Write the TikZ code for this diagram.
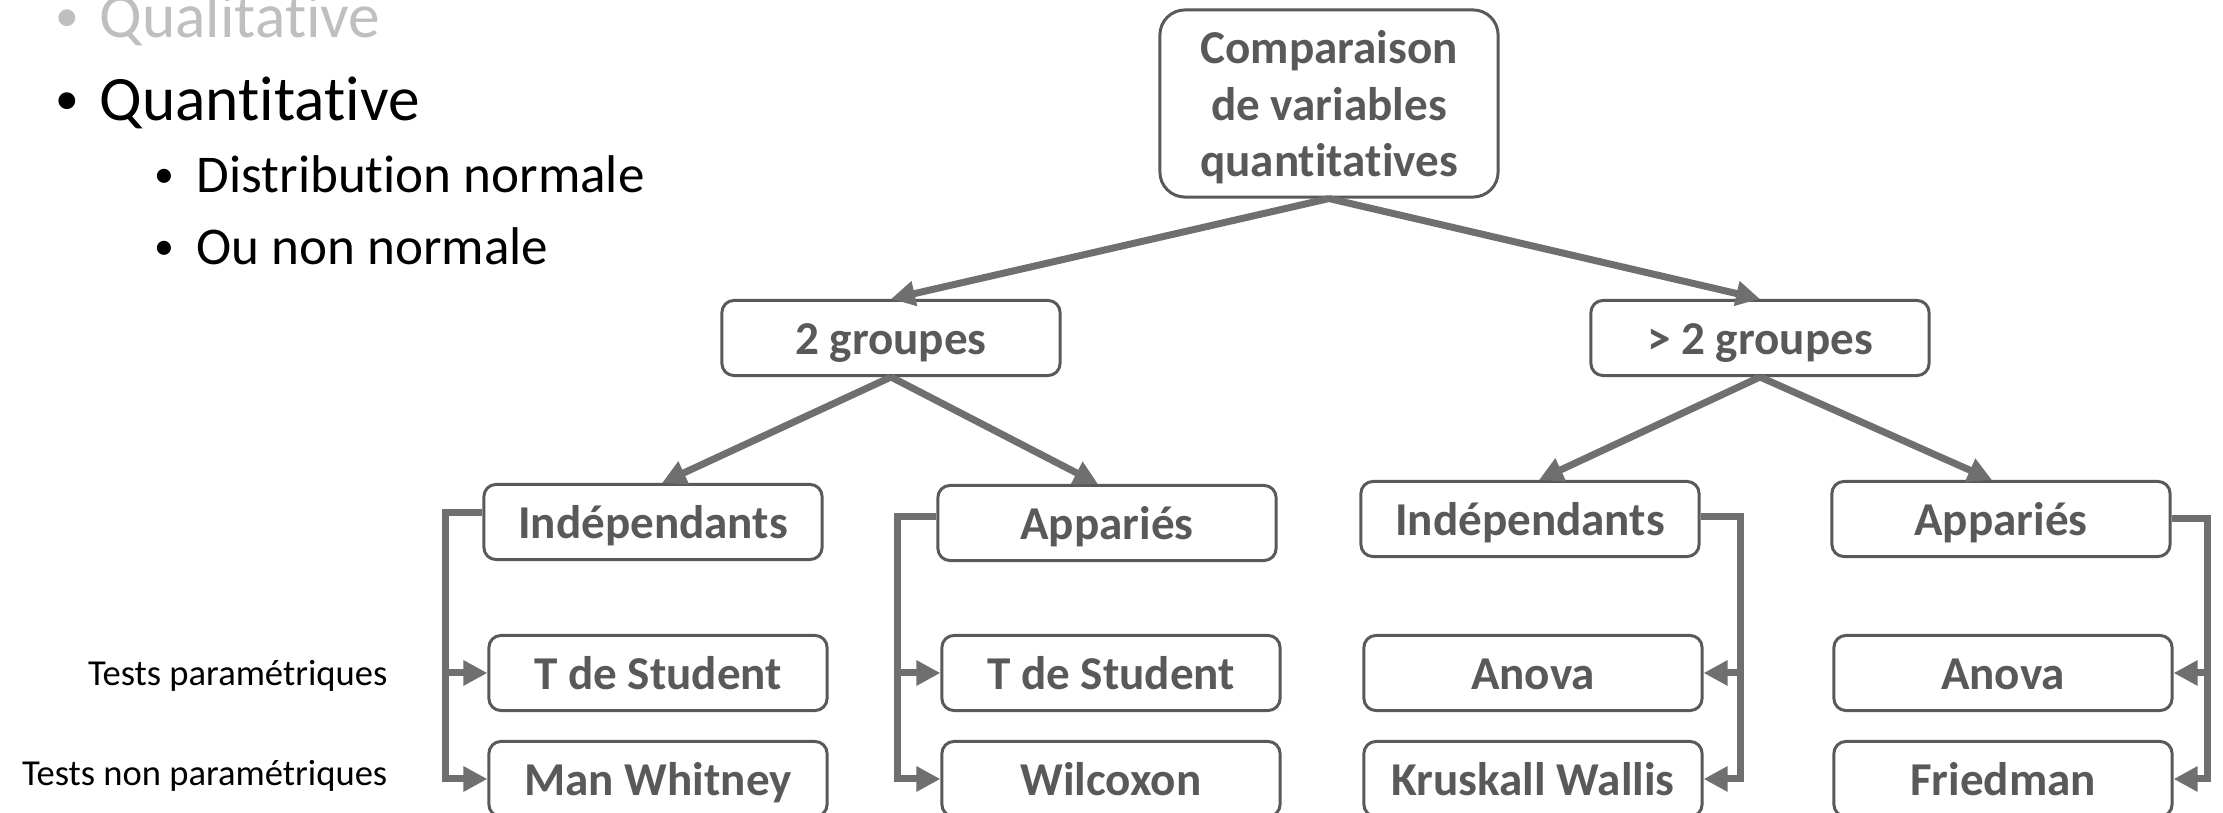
\documentclass[tikz,border=0pt]{standalone}
\usepackage{fontspec}
\setmainfont{Carlito}[RawFeature={-liga;-clig}]
\usepackage{tikz}
\usetikzlibrary{arrows.meta}
\usetikzlibrary{calc}
\definecolor{boxgray}{HTML}{595959}
\definecolor{linkgray}{HTML}{6F6F6F}
\definecolor{qualgray}{HTML}{BFBFBF}
\newcommand{\dotitem}{\raisebox{0.1em}{\scalebox{0.75}{•}}}

\begin{document}
\begin{tikzpicture}[x=0.01cm, y=-0.01cm,
	box/.style={draw=boxgray, line width=0.85pt, rounded corners=0.12cm, minimum width=3.38cm, minimum height=0.75cm, inner sep=0pt, text height=0.33cm, text depth=0pt, text=boxgray, font=\fontsize{13.4}{16.2}\selectfont\bfseries},
	link/.style={color=linkgray, line width=0.07cm, -{Triangle[length=0.24cm, width=0.24cm]}},
	elbow/.style={link, line join=miter},
	bigitem/.style={anchor=base west, inner sep=0pt, font=\fontsize{18}{21}\selectfont},
	subitem/.style={anchor=base west, inner sep=0pt, font=\fontsize{15.1}{18}\selectfont},
	testlabel/.style={anchor=east, inner sep=0pt, font=\fontsize{10.4}{12.5}\selectfont}
]
\useasboundingbox (0,0) rectangle (2223,813);

% bullet list on the left
\node[bigitem, text=qualgray] (qual) at (55,38) {\makebox[0.44cm][l]{\dotitem}Qualitative};
\node[bigitem] (quant) at (55,121) {\makebox[0.44cm][l]{\dotitem}Quantitative};
\node[subitem] (dist) at (154,193) {\makebox[0.42cm][l]{\dotitem}Distribution normale};
\node[subitem] (nonnorm) at (154,265) {\makebox[0.42cm][l]{\dotitem}Ou non normale};

\node[testlabel] (param) at (388,676) {Tests paramétriques};
\node[testlabel] (nonparam) at (388,776) {Tests non paramétriques};

% tree
\node[box, minimum height=1.87cm, rounded corners=0.25cm, text height={}, align=center] (root) at (1329,103.5) {Comparaison\\de variables\\quantitatives};
\node[box] (two) at (891,338) {2 groupes};
\node[box] (more) at (1760,338) {> 2 groupes};

\node[box] (ind1) at (653,522) {Indépendants};
\node[box] (app1) at (1107,523) {Appariés};
\node[box] (ind2) at (1530,519) {Indépendants};
\node[box] (app2) at (2001,519) {Appariés};

\node[box] (stud1) at (658,673) {T de Student};
\node[box] (stud2) at (1111,673) {T de Student};
\node[box] (anova1) at (1533,673) {Anova};
\node[box] (anova2) at (2003,673) {Anova};

\node[box] (whit) at (658,779) {Man Whitney};
\node[box] (wilc) at (1111,779) {Wilcoxon};
\node[box] (krus) at (1533,779) {Kruskall Wallis};
\node[box] (fried) at (2003,779) {Friedman};

\path[link]
(root.south) edge (two.north)
(root.south) edge (more.north)
(two.south) edge ([xshift=0.09cm]ind1.north)
(two.south) edge ([xshift=-0.09cm]app1.north)
(more.south) edge ([xshift=0.09cm]ind2.north)
(more.south) edge ([xshift=-0.09cm]app2.north)
;

% elbow connectors to the tests
\coordinate (bus1) at (445,513);
\coordinate (bus2) at (897,517);
\coordinate (bus3) at (1740,517);
\coordinate (bus4) at (2207,519);

\draw[elbow] (ind1.west |- bus1) -- (bus1) |- (whit.west);
\draw[elbow] (bus1 |- stud1) -- (stud1.west);
\draw[elbow] (app1.west |- bus2) -- (bus2) |- (wilc.west);
\draw[elbow] (bus2 |- stud2) -- (stud2.west);
\draw[elbow] (ind2.east |- bus3) -- (bus3) |- (krus.east);
\draw[elbow] (bus3 |- anova1) -- (anova1.east);
\draw[elbow] (app2.east |- bus4) -- (bus4) |- (fried.east);
\draw[elbow] (bus4 |- anova2) -- (anova2.east);
\end{tikzpicture}
\end{document}
